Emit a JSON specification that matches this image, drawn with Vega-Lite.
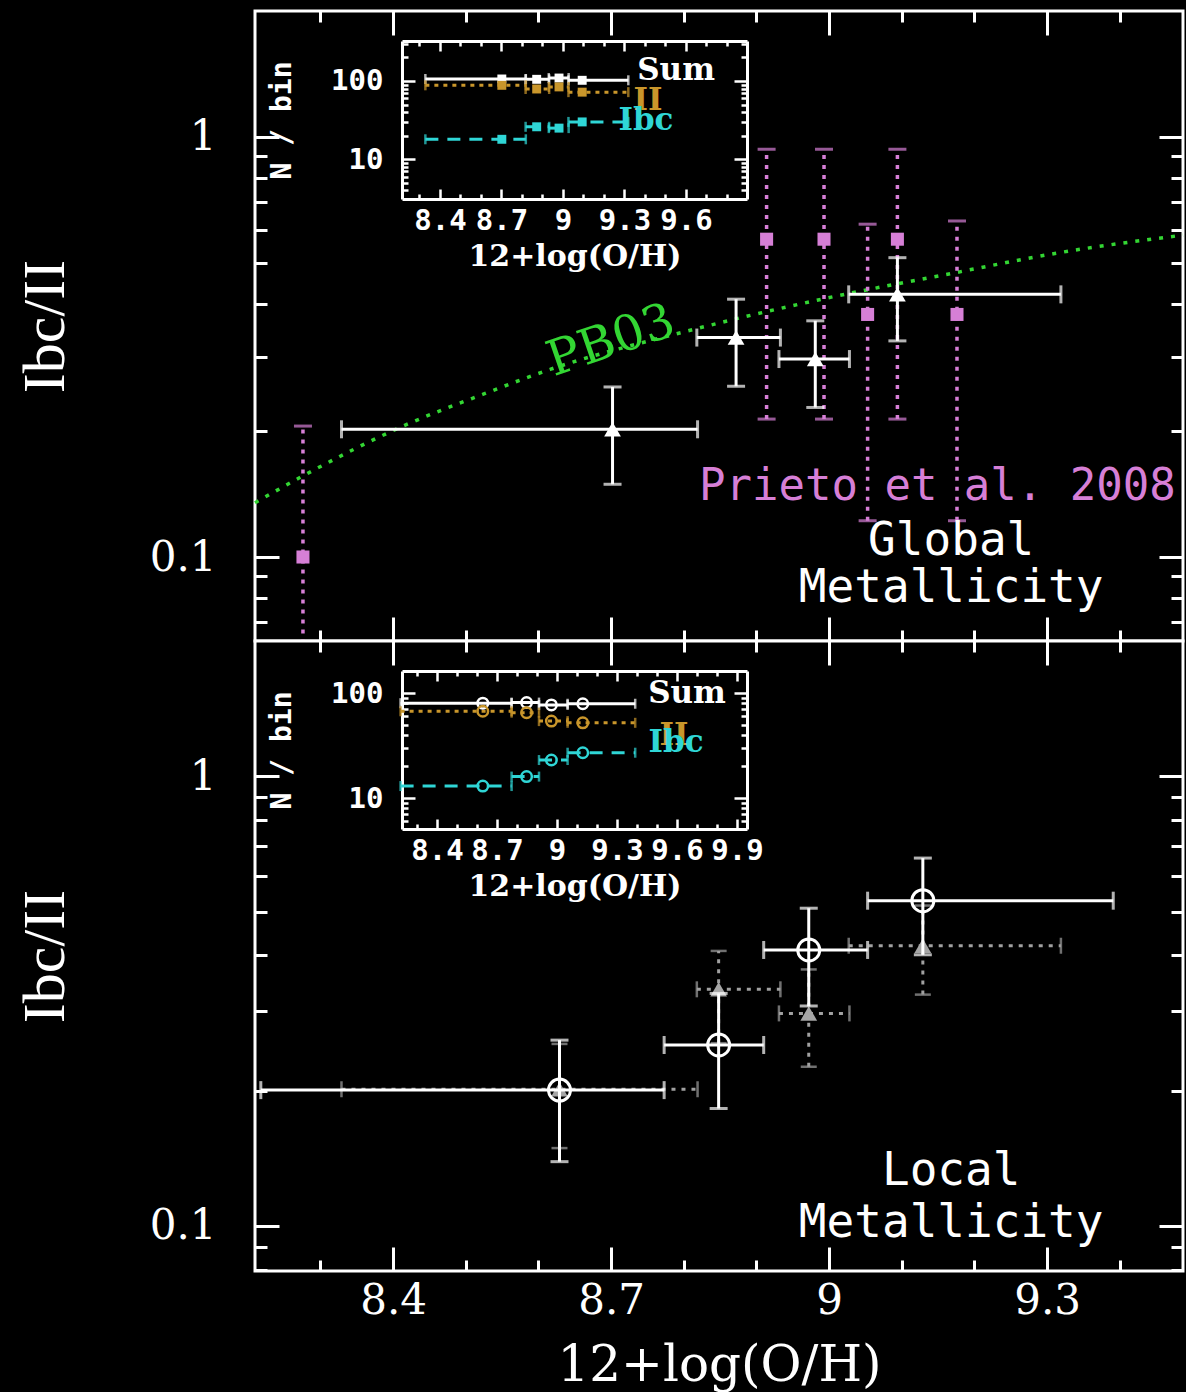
{
  "$schema": "https://vega.github.io/schema/vega-lite/v6.json",
  "background": "#000000",
  "padding": {"left": 13, "top": 8, "right": 0, "bottom": 0},
  "spacing": 0,
  "bounds": "flush",
  "config": {
    "view": {"stroke": "#ffffff", "strokeWidth": 3, "fill": "#000000"},
    "axis": {"grid": false, "domain": false, "tickColor": "#ffffff", "tickWidth": 3, "labelColor": "#ffffff", "titleColor": "#ffffff", "domainColor": "#ffffff", "labelOverlap": false, "labelFlush": false, "labelBound": false, "titleFontWeight": "normal"}
  },
  "datasets": {
    "pb03": [{"x": 8.21, "y": 0.1346}, {"x": 8.276, "y": 0.156}, {"x": 8.411, "y": 0.204}, {"x": 8.525, "y": 0.2445}, {"x": 8.617, "y": 0.28}, {"x": 8.793, "y": 0.341}, {"x": 8.99, "y": 0.411}, {"x": 9.173, "y": 0.475}, {"x": 9.316, "y": 0.53}, {"x": 9.487, "y": 0.584}],
    "prieto": [{"x": 8.276, "y": 0.1, "ylo": 0.05, "yhi": 0.205}, {"x": 8.914, "y": 0.571, "ylo": 0.213, "yhi": 0.935}, {"x": 8.993, "y": 0.571, "ylo": 0.213, "yhi": 0.935}, {"x": 9.053, "y": 0.378, "ylo": 0.122, "yhi": 0.62}, {"x": 9.094, "y": 0.571, "ylo": 0.213, "yhi": 0.935}, {"x": 9.176, "y": 0.378, "ylo": 0.122, "yhi": 0.631}],
    "global": [{"x": 8.702, "xlo": 8.329, "xhi": 8.819, "y": 0.2014, "ylo": 0.149, "yhi": 0.254}, {"x": 8.872, "xlo": 8.818, "xhi": 8.933, "y": 0.333, "ylo": 0.255, "yhi": 0.411}, {"x": 8.981, "xlo": 8.931, "xhi": 9.028, "y": 0.296, "ylo": 0.227, "yhi": 0.365}, {"x": 9.094, "xlo": 9.027, "xhi": 9.319, "y": 0.422, "ylo": 0.327, "yhi": 0.516}],
    "local": [{"x": 8.629, "xlo": 8.218, "xhi": 8.773, "y": 0.2005, "ylo": 0.139, "yhi": 0.259}, {"x": 8.848, "xlo": 8.773, "xhi": 8.91, "y": 0.2526, "ylo": 0.1825, "yhi": 0.329}, {"x": 8.972, "xlo": 8.91, "xhi": 9.053, "y": 0.411, "ylo": 0.3085, "yhi": 0.509}, {"x": 9.129, "xlo": 9.053, "xhi": 9.391, "y": 0.529, "ylo": 0.401, "yhi": 0.658}],
    "globalLocal": [{"x": 8.629, "xlo": 8.329, "xhi": 8.819, "y": 0.2014, "ylo": 0.149, "yhi": 0.254}, {"x": 8.848, "xlo": 8.818, "xhi": 8.933, "y": 0.336, "ylo": 0.255, "yhi": 0.409}, {"x": 8.972, "xlo": 8.931, "xhi": 9.028, "y": 0.297, "ylo": 0.226, "yhi": 0.372}, {"x": 9.129, "xlo": 9.027, "xhi": 9.319, "y": 0.42, "ylo": 0.327, "yhi": 0.516}],
    "insetTop": [
      {"type": "Sum", "x": 8.702, "xlo": 8.329, "xhi": 8.819, "n": 106}, {"type": "Sum", "x": 8.872, "xlo": 8.818, "xhi": 8.933, "n": 105}, {"type": "Sum", "x": 8.981, "xlo": 8.931, "xhi": 9.028, "n": 109}, {"type": "Sum", "x": 9.094, "xlo": 9.027, "xhi": 9.319, "n": 102},
      {"type": "II", "x": 8.702, "xlo": 8.329, "xhi": 8.819, "n": 88}, {"type": "II", "x": 8.872, "xlo": 8.818, "xhi": 8.933, "n": 79}, {"type": "II", "x": 8.981, "xlo": 8.931, "xhi": 9.028, "n": 84}, {"type": "II", "x": 9.094, "xlo": 9.027, "xhi": 9.319, "n": 72},
      {"type": "Ibc", "x": 8.702, "xlo": 8.329, "xhi": 8.819, "n": 18}, {"type": "Ibc", "x": 8.872, "xlo": 8.818, "xhi": 8.933, "n": 26}, {"type": "Ibc", "x": 8.981, "xlo": 8.931, "xhi": 9.028, "n": 25}, {"type": "Ibc", "x": 9.094, "xlo": 9.027, "xhi": 9.319, "n": 30}
    ],
    "insetBottom": [
      {"type": "Sum", "x": 8.629, "xlo": 8.218, "xhi": 8.773, "n": 80}, {"type": "Sum", "x": 8.848, "xlo": 8.773, "xhi": 8.91, "n": 81}, {"type": "Sum", "x": 8.972, "xlo": 8.91, "xhi": 9.053, "n": 77}, {"type": "Sum", "x": 9.129, "xlo": 9.053, "xhi": 9.391, "n": 79},
      {"type": "II", "x": 8.629, "xlo": 8.218, "xhi": 8.773, "n": 67}, {"type": "II", "x": 8.848, "xlo": 8.773, "xhi": 8.91, "n": 65}, {"type": "II", "x": 8.972, "xlo": 8.91, "xhi": 9.053, "n": 54}, {"type": "II", "x": 9.129, "xlo": 9.053, "xhi": 9.391, "n": 52},
      {"type": "Ibc", "x": 8.629, "xlo": 8.218, "xhi": 8.773, "n": 13}, {"type": "Ibc", "x": 8.848, "xlo": 8.773, "xhi": 8.91, "n": 16}, {"type": "Ibc", "x": 8.972, "xlo": 8.91, "xhi": 9.053, "n": 23}, {"type": "Ibc", "x": 9.129, "xlo": 9.053, "xhi": 9.391, "n": 27}
    ],
    "insetTopLabels": [{"type": "Sum", "label": "Sum", "x": 9.552, "n": 134}, {"type": "II", "label": "II", "x": 9.415, "n": 55.6}, {"type": "Ibc", "label": "Ibc", "x": 9.405, "n": 30.8}],
    "insetBottomLabels": [{"type": "Sum", "label": "Sum", "x": 9.65, "n": 97.8}, {"type": "II", "label": "II", "x": 9.585, "n": 38.9}, {"type": "Ibc", "label": "Ibc", "x": 9.595, "n": 33.4}]
  },
  "vconcat": [
    {
      "width": 928,
      "height": 630,
      "resolve": {"scale": {"x": "independent", "y": "independent"}, "axis": {"x": "independent", "y": "independent"}},
      "layer": [
        {
          "resolve": {"axis": {"x": "independent", "y": "independent"}},
          "layer": [
            {"data": {"name": "pb03"}, "mark": {"type": "line", "color": "#33d633", "strokeWidth": 3.5, "strokeDash": [4, 8], "interpolate": "monotone"},
             "encoding": {
               "x": {"field": "x", "type": "quantitative", "scale": {"domain": [8.21, 9.487], "nice": false, "zero": false},
                     "axis": {"orient": "bottom", "values": [8.3, 8.4, 8.5, 8.6, 8.7, 8.8, 8.9, 9, 9.1, 9.2, 9.3, 9.4], "labels": false, "title": null, "tickSize": {"condition": {"test": "round(datum.value*10) % 3 == 0", "value": -24}, "value": -11}}},
               "y": {"field": "y", "type": "quantitative", "scale": {"type": "log", "domain": [0.0631, 1.995], "nice": false},
                     "axis": {"orient": "left", "values": [0.07, 0.08, 0.09, 0.1, 0.2, 0.3, 0.4, 0.5, 0.6, 0.7, 0.8, 0.9, 1], "labelExpr": "datum.value == 1 ? '1' : (datum.value == 0.1 ? '0.1' : '')", "tickSize": {"condition": {"test": "datum.value == 1 || datum.value == 0.1", "value": -24}, "value": -12}, "labelFont": "DejaVu Serif", "labelFontSize": 42, "labelPadding": 63, "title": "Ibc/II", "titleFont": "Liberation Serif", "titleFontSize": 60, "titlePadding": 73}}
             }},
            {"data": {"name": "prieto"}, "mark": {"type": "rule", "color": "#d67fd6", "strokeWidth": 3.5, "strokeDash": [4, 6], "clip": true},
             "encoding": {
               "x": {"field": "x", "type": "quantitative", "scale": {"domain": [8.21, 9.487], "nice": false, "zero": false}, "axis": null},
               "y": {"field": "ylo", "type": "quantitative", "scale": {"type": "log", "domain": [0.0631, 1.995], "nice": false}, "axis": null},
               "y2": {"field": "yhi"}
             }},
            {"data": {"name": "prieto"}, "transform": [{"fold": ["ylo", "yhi"], "as": ["end", "yv"]}], "mark": {"type": "tick", "orient": "horizontal", "size": 18, "thickness": 3, "color": "#d67fd6", "clip": true},
             "encoding": {
               "x": {"field": "x", "type": "quantitative", "scale": {"domain": [8.21, 9.487], "nice": false, "zero": false}, "axis": null},
               "y": {"field": "yv", "type": "quantitative", "scale": {"type": "log", "domain": [0.0631, 1.995], "nice": false}, "axis": null}
             }},
            {"data": {"name": "prieto"}, "mark": {"type": "point", "shape": "square", "filled": true, "size": 170, "color": "#d67fd6", "opacity": 1},
             "encoding": {
               "x": {"field": "x", "type": "quantitative", "scale": {"domain": [8.21, 9.487], "nice": false, "zero": false},
                     "axis": {"orient": "top", "values": [8.3, 8.4, 8.5, 8.6, 8.7, 8.8, 8.9, 9, 9.1, 9.2, 9.3, 9.4], "labels": false, "title": null, "tickSize": {"condition": {"test": "round(datum.value*10) % 3 == 0", "value": -24}, "value": -11}}},
               "y": {"field": "y", "type": "quantitative", "scale": {"type": "log", "domain": [0.0631, 1.995], "nice": false},
                     "axis": {"orient": "right", "values": [0.07, 0.08, 0.09, 0.1, 0.2, 0.3, 0.4, 0.5, 0.6, 0.7, 0.8, 0.9, 1], "labels": false, "title": null, "tickSize": {"condition": {"test": "datum.value == 1 || datum.value == 0.1", "value": -24}, "value": -12}}}
             }},
            {"data": {"name": "global"}, "mark": {"type": "rule", "color": "#ffffff", "strokeWidth": 3},
             "encoding": {
               "x": {"field": "xlo", "type": "quantitative", "scale": {"domain": [8.21, 9.487], "nice": false, "zero": false}, "axis": null},
               "x2": {"field": "xhi"},
               "y": {"field": "y", "type": "quantitative", "scale": {"type": "log", "domain": [0.0631, 1.995], "nice": false}, "axis": null}
             }},
            {"data": {"name": "global"}, "transform": [{"fold": ["xlo", "xhi"], "as": ["end", "xv"]}], "mark": {"type": "tick", "orient": "vertical", "size": 18, "thickness": 3, "color": "#ffffff"},
             "encoding": {
               "x": {"field": "xv", "type": "quantitative", "scale": {"domain": [8.21, 9.487], "nice": false, "zero": false}, "axis": null},
               "y": {"field": "y", "type": "quantitative", "scale": {"type": "log", "domain": [0.0631, 1.995], "nice": false}, "axis": null}
             }},
            {"data": {"name": "global"}, "mark": {"type": "rule", "color": "#ffffff", "strokeWidth": 3},
             "encoding": {
               "x": {"field": "x", "type": "quantitative", "scale": {"domain": [8.21, 9.487], "nice": false, "zero": false}, "axis": null},
               "y": {"field": "ylo", "type": "quantitative", "scale": {"type": "log", "domain": [0.0631, 1.995], "nice": false}, "axis": null},
               "y2": {"field": "yhi"}
             }},
            {"data": {"name": "global"}, "transform": [{"fold": ["ylo", "yhi"], "as": ["end", "yv"]}], "mark": {"type": "tick", "orient": "horizontal", "size": 18, "thickness": 3, "color": "#ffffff"},
             "encoding": {
               "x": {"field": "x", "type": "quantitative", "scale": {"domain": [8.21, 9.487], "nice": false, "zero": false}, "axis": null},
               "y": {"field": "yv", "type": "quantitative", "scale": {"type": "log", "domain": [0.0631, 1.995], "nice": false}, "axis": null}
             }},
            {"data": {"name": "global"}, "mark": {"type": "point", "shape": "triangle-up", "filled": true, "size": 280, "color": "#ffffff", "opacity": 1},
             "encoding": {
               "x": {"field": "x", "type": "quantitative", "scale": {"domain": [8.21, 9.487], "nice": false, "zero": false}, "axis": null},
               "y": {"field": "y", "type": "quantitative", "scale": {"type": "log", "domain": [0.0631, 1.995], "nice": false}, "axis": null}
             }},
            {"data": {"values": [{"label": "PB03", "x": 8.7, "y": 0.327}]}, "mark": {"type": "text", "color": "#33d633", "font": "DejaVu Serif", "fontSize": 49, "angle": 341, "align": "center", "baseline": "middle"},
             "encoding": {
               "x": {"field": "x", "type": "quantitative", "scale": {"domain": [8.21, 9.487], "nice": false, "zero": false}, "axis": null},
               "y": {"field": "y", "type": "quantitative", "scale": {"type": "log", "domain": [0.0631, 1.995], "nice": false}, "axis": null},
               "text": {"field": "label"}
             }},
            {"data": {"values": [{"label": "Prieto et al. 2008", "x": 9.149, "y": 0.1468}]}, "mark": {"type": "text", "color": "#d67fd6", "font": "DejaVu Sans Mono", "fontSize": 44, "align": "center", "baseline": "middle"},
             "encoding": {
               "x": {"field": "x", "type": "quantitative", "scale": {"domain": [8.21, 9.487], "nice": false, "zero": false}, "axis": null},
               "y": {"field": "y", "type": "quantitative", "scale": {"type": "log", "domain": [0.0631, 1.995], "nice": false}, "axis": null},
               "text": {"field": "label"}
             }},
            {"data": {"values": [{"label": "Global", "x": 9.168, "y": 0.1092}, {"label": "Metallicity", "x": 9.168, "y": 0.0844}]}, "mark": {"type": "text", "color": "#ffffff", "font": "DejaVu Sans Mono", "fontSize": 46, "align": "center", "baseline": "middle"},
             "encoding": {
               "x": {"field": "x", "type": "quantitative", "scale": {"domain": [8.21, 9.487], "nice": false, "zero": false}, "axis": null},
               "y": {"field": "y", "type": "quantitative", "scale": {"type": "log", "domain": [0.0631, 1.995], "nice": false}, "axis": null},
               "text": {"field": "label"}
             }}
          ]
        },
        {
          "resolve": {"axis": {"x": "independent", "y": "independent"}},
          "layer": [
            {"data": {"name": "insetTop"}, "mark": {"type": "rule", "strokeWidth": 3},
             "encoding": {
               "x": {"field": "xlo", "type": "quantitative", "scale": {"domain": [8.215, 9.898], "range": [147, 492], "nice": false, "zero": false},
                     "axis": {"orient": "bottom", "offset": -442, "values": [8.3, 8.4, 8.5, 8.6, 8.7, 8.8, 8.9, 9, 9.1, 9.2, 9.3, 9.4, 9.5, 9.6, 9.7, 9.8], "domain": true, "domainWidth": 3, "tickWidth": 2.5, "tickSize": {"condition": {"test": "round(datum.value*10) % 3 == 0", "value": -10}, "value": -5}, "format": "~g", "labelExpr": "round(datum.value*10) % 3 == 0 ? datum.label : ''", "labelFont": "DejaVu Sans Mono", "labelFontWeight": "bold", "labelFontSize": 29, "labelPadding": 17, "title": "12+log(O/H)", "titleFont": "DejaVu Serif", "titleFontWeight": "bold", "titleFontSize": 30, "titlePadding": 1}},
               "x2": {"field": "xhi"},
               "y": {"field": "n", "type": "quantitative", "scale": {"type": "log", "domain": [3.11, 324], "range": [188, 30], "nice": false},
                     "axis": {"orient": "left", "offset": -147, "values": [4, 5, 6, 7, 8, 9, 10, 20, 30, 40, 50, 60, 70, 80, 90, 100, 200, 300], "domain": true, "domainWidth": 3, "tickWidth": 2.5, "tickSize": {"condition": {"test": "datum.value == 10 || datum.value == 100", "value": -13}, "value": -6}, "labelExpr": "datum.value == 100 ? '100' : (datum.value == 10 ? '10' : '')", "labelFont": "DejaVu Sans Mono", "labelFontWeight": "bold", "labelFontSize": 29, "labelPadding": 32, "title": "N / bin", "titleFont": "DejaVu Sans Mono", "titleFontWeight": "bold", "titleFontSize": 28, "titlePadding": 34}},
               "color": {"field": "type", "type": "nominal", "scale": {"domain": ["Sum", "II", "Ibc"], "range": ["#ffffff", "#c9962b", "#2fd6d6"]}, "legend": null},
               "strokeDash": {"field": "type", "type": "nominal", "scale": {"domain": ["Sum", "II", "Ibc"], "range": [[1, 0], [4, 5], [13, 9]]}, "legend": null}
             }},
            {"data": {"name": "insetTop"}, "transform": [{"fold": ["xlo", "xhi"], "as": ["end", "xv"]}], "mark": {"type": "tick", "orient": "vertical", "size": 10, "thickness": 2.5},
             "encoding": {
               "x": {"field": "xv", "type": "quantitative", "scale": {"domain": [8.215, 9.898], "range": [147, 492], "nice": false, "zero": false}, "axis": null},
               "y": {"field": "n", "type": "quantitative", "scale": {"type": "log", "domain": [3.11, 324], "range": [188, 30], "nice": false}, "axis": null},
               "color": {"field": "type", "type": "nominal", "scale": {"domain": ["Sum", "II", "Ibc"], "range": ["#ffffff", "#c9962b", "#2fd6d6"]}, "legend": null}
             }},
            {"data": {"name": "insetTop"}, "mark": {"type": "point", "shape": "square", "filled": true, "size": 80, "opacity": 1},
             "encoding": {
               "x": {"field": "x", "type": "quantitative", "scale": {"domain": [8.215, 9.898], "range": [147, 492], "nice": false, "zero": false},
                     "axis": {"orient": "top", "offset": -30, "values": [8.3, 8.4, 8.5, 8.6, 8.7, 8.8, 8.9, 9, 9.1, 9.2, 9.3, 9.4, 9.5, 9.6, 9.7, 9.8], "domain": true, "domainWidth": 3, "tickWidth": 2.5, "tickSize": {"condition": {"test": "round(datum.value*10) % 3 == 0", "value": -10}, "value": -5}, "labels": false, "title": null}},
               "y": {"field": "n", "type": "quantitative", "scale": {"type": "log", "domain": [3.11, 324], "range": [188, 30], "nice": false},
                     "axis": {"orient": "right", "offset": -436, "values": [4, 5, 6, 7, 8, 9, 10, 20, 30, 40, 50, 60, 70, 80, 90, 100, 200, 300], "domain": true, "domainWidth": 3, "tickWidth": 2.5, "tickSize": {"condition": {"test": "datum.value == 10 || datum.value == 100", "value": -13}, "value": -6}, "labels": false, "title": null}},
               "color": {"field": "type", "type": "nominal", "scale": {"domain": ["Sum", "II", "Ibc"], "range": ["#ffffff", "#c9962b", "#2fd6d6"]}, "legend": null}
             }},
            {"data": {"name": "insetTopLabels"}, "mark": {"type": "text", "font": "DejaVu Serif", "fontWeight": "bold", "fontSize": 31, "align": "center", "baseline": "middle"},
             "encoding": {
               "x": {"field": "x", "type": "quantitative", "scale": {"domain": [8.215, 9.898], "range": [147, 492], "nice": false, "zero": false}, "axis": null},
               "y": {"field": "n", "type": "quantitative", "scale": {"type": "log", "domain": [3.11, 324], "range": [188, 30], "nice": false}, "axis": null},
               "text": {"field": "label"},
               "color": {"field": "type", "type": "nominal", "scale": {"domain": ["Sum", "II", "Ibc"], "range": ["#ffffff", "#c9962b", "#2fd6d6"]}, "legend": null}
             }}
          ]
        }
      ]
    },
    {
      "width": 928,
      "height": 630,
      "resolve": {"scale": {"x": "independent", "y": "independent"}, "axis": {"x": "independent", "y": "independent"}},
      "layer": [
        {
          "resolve": {"axis": {"x": "independent", "y": "independent"}},
          "layer": [
            {"data": {"name": "globalLocal"}, "mark": {"type": "rule", "color": "#a0a0a0", "strokeWidth": 3, "strokeDash": [4, 6]},
             "encoding": {
               "x": {"field": "xlo", "type": "quantitative", "scale": {"domain": [8.21, 9.487], "nice": false, "zero": false}, "axis": null},
               "x2": {"field": "xhi"},
               "y": {"field": "y", "type": "quantitative", "scale": {"type": "log", "domain": [0.0794, 2.0], "nice": false}, "axis": null}
             }},
            {"data": {"name": "globalLocal"}, "transform": [{"fold": ["xlo", "xhi"], "as": ["end", "xv"]}], "mark": {"type": "tick", "orient": "vertical", "size": 16, "thickness": 2.5, "color": "#a0a0a0"},
             "encoding": {
               "x": {"field": "xv", "type": "quantitative", "scale": {"domain": [8.21, 9.487], "nice": false, "zero": false}, "axis": null},
               "y": {"field": "y", "type": "quantitative", "scale": {"type": "log", "domain": [0.0794, 2.0], "nice": false}, "axis": null}
             }},
            {"data": {"name": "globalLocal"}, "mark": {"type": "rule", "color": "#a0a0a0", "strokeWidth": 3, "strokeDash": [4, 6]},
             "encoding": {
               "x": {"field": "x", "type": "quantitative", "scale": {"domain": [8.21, 9.487], "nice": false, "zero": false}, "axis": null},
               "y": {"field": "ylo", "type": "quantitative", "scale": {"type": "log", "domain": [0.0794, 2.0], "nice": false}, "axis": null},
               "y2": {"field": "yhi"}
             }},
            {"data": {"name": "globalLocal"}, "transform": [{"fold": ["ylo", "yhi"], "as": ["end", "yv"]}], "mark": {"type": "tick", "orient": "horizontal", "size": 16, "thickness": 2.5, "color": "#a0a0a0"},
             "encoding": {
               "x": {"field": "x", "type": "quantitative", "scale": {"domain": [8.21, 9.487], "nice": false, "zero": false}, "axis": null},
               "y": {"field": "yv", "type": "quantitative", "scale": {"type": "log", "domain": [0.0794, 2.0], "nice": false}, "axis": null}
             }},
            {"data": {"name": "globalLocal"}, "mark": {"type": "point", "shape": "triangle-up", "filled": true, "size": 280, "color": "#a6a6a6", "opacity": 1},
             "encoding": {
               "x": {"field": "x", "type": "quantitative", "scale": {"domain": [8.21, 9.487], "nice": false, "zero": false},
                     "axis": {"orient": "top", "values": [8.3, 8.4, 8.5, 8.6, 8.7, 8.8, 8.9, 9, 9.1, 9.2, 9.3, 9.4], "labels": false, "title": null, "tickSize": {"condition": {"test": "round(datum.value*10) % 3 == 0", "value": -24}, "value": -11}}},
               "y": {"field": "y", "type": "quantitative", "scale": {"type": "log", "domain": [0.0794, 2.0], "nice": false},
                     "axis": {"orient": "right", "values": [0.08, 0.09, 0.1, 0.2, 0.3, 0.4, 0.5, 0.6, 0.7, 0.8, 0.9, 1], "labels": false, "title": null, "tickSize": {"condition": {"test": "datum.value == 1 || datum.value == 0.1", "value": -24}, "value": -12}}}
             }},
            {"data": {"name": "local"}, "mark": {"type": "rule", "color": "#ffffff", "strokeWidth": 3},
             "encoding": {
               "x": {"field": "xlo", "type": "quantitative", "scale": {"domain": [8.21, 9.487], "nice": false, "zero": false}, "axis": null},
               "x2": {"field": "xhi"},
               "y": {"field": "y", "type": "quantitative", "scale": {"type": "log", "domain": [0.0794, 2.0], "nice": false}, "axis": null}
             }},
            {"data": {"name": "local"}, "transform": [{"fold": ["xlo", "xhi"], "as": ["end", "xv"]}], "mark": {"type": "tick", "orient": "vertical", "size": 18, "thickness": 3, "color": "#ffffff"},
             "encoding": {
               "x": {"field": "xv", "type": "quantitative", "scale": {"domain": [8.21, 9.487], "nice": false, "zero": false}, "axis": null},
               "y": {"field": "y", "type": "quantitative", "scale": {"type": "log", "domain": [0.0794, 2.0], "nice": false}, "axis": null}
             }},
            {"data": {"name": "local"}, "mark": {"type": "rule", "color": "#ffffff", "strokeWidth": 3},
             "encoding": {
               "x": {"field": "x", "type": "quantitative", "scale": {"domain": [8.21, 9.487], "nice": false, "zero": false}, "axis": null},
               "y": {"field": "ylo", "type": "quantitative", "scale": {"type": "log", "domain": [0.0794, 2.0], "nice": false}, "axis": null},
               "y2": {"field": "yhi"}
             }},
            {"data": {"name": "local"}, "transform": [{"fold": ["ylo", "yhi"], "as": ["end", "yv"]}], "mark": {"type": "tick", "orient": "horizontal", "size": 18, "thickness": 3, "color": "#ffffff"},
             "encoding": {
               "x": {"field": "x", "type": "quantitative", "scale": {"domain": [8.21, 9.487], "nice": false, "zero": false}, "axis": null},
               "y": {"field": "yv", "type": "quantitative", "scale": {"type": "log", "domain": [0.0794, 2.0], "nice": false}, "axis": null}
             }},
            {"data": {"name": "local"}, "mark": {"type": "point", "shape": "circle", "filled": false, "size": 484, "strokeWidth": 3, "color": "#ffffff", "opacity": 1},
             "encoding": {
               "x": {"field": "x", "type": "quantitative", "scale": {"domain": [8.21, 9.487], "nice": false, "zero": false},
                     "axis": {"orient": "bottom", "values": [8.3, 8.4, 8.5, 8.6, 8.7, 8.8, 8.9, 9, 9.1, 9.2, 9.3, 9.4], "format": "~g", "labelExpr": "round(datum.value*10) % 3 == 0 ? datum.label : ''", "tickSize": {"condition": {"test": "round(datum.value*10) % 3 == 0", "value": -24}, "value": -11}, "labelFont": "DejaVu Serif", "labelFontSize": 42, "labelPadding": 33, "title": "12+log(O/H)", "titleFont": "DejaVu Serif", "titleFontSize": 50, "titlePadding": 6}},
               "y": {"field": "y", "type": "quantitative", "scale": {"type": "log", "domain": [0.0794, 2.0], "nice": false},
                     "axis": {"orient": "left", "values": [0.08, 0.09, 0.1, 0.2, 0.3, 0.4, 0.5, 0.6, 0.7, 0.8, 0.9, 1], "labelExpr": "datum.value == 1 ? '1' : (datum.value == 0.1 ? '0.1' : '')", "tickSize": {"condition": {"test": "datum.value == 1 || datum.value == 0.1", "value": -24}, "value": -12}, "labelFont": "DejaVu Serif", "labelFontSize": 42, "labelPadding": 63, "title": "Ibc/II", "titleFont": "Liberation Serif", "titleFontSize": 60, "titlePadding": 73}}
             }},
            {"data": {"values": [{"label": "Local", "x": 9.168, "y": 0.1326}, {"label": "Metallicity", "x": 9.168, "y": 0.1016}]}, "mark": {"type": "text", "color": "#ffffff", "font": "DejaVu Sans Mono", "fontSize": 46, "align": "center", "baseline": "middle"},
             "encoding": {
               "x": {"field": "x", "type": "quantitative", "scale": {"domain": [8.21, 9.487], "nice": false, "zero": false}, "axis": null},
               "y": {"field": "y", "type": "quantitative", "scale": {"type": "log", "domain": [0.0794, 2.0], "nice": false}, "axis": null},
               "text": {"field": "label"}
             }}
          ]
        },
        {
          "resolve": {"axis": {"x": "independent", "y": "independent"}},
          "layer": [
            {"data": {"name": "insetBottom"}, "mark": {"type": "rule", "strokeWidth": 3},
             "encoding": {
               "x": {"field": "xlo", "type": "quantitative", "scale": {"domain": [8.225, 9.95], "range": [147, 492], "nice": false, "zero": false},
                     "axis": {"orient": "bottom", "offset": -442, "values": [8.3, 8.4, 8.5, 8.6, 8.7, 8.8, 8.9, 9, 9.1, 9.2, 9.3, 9.4, 9.5, 9.6, 9.7, 9.8, 9.9], "domain": true, "domainWidth": 3, "tickWidth": 2.5, "tickSize": {"condition": {"test": "round(datum.value*10) % 3 == 0", "value": -10}, "value": -5}, "format": "~g", "labelExpr": "round(datum.value*10) % 3 == 0 ? datum.label : ''", "labelFont": "DejaVu Sans Mono", "labelFontWeight": "bold", "labelFontSize": 29, "labelPadding": 17, "title": "12+log(O/H)", "titleFont": "DejaVu Serif", "titleFontWeight": "bold", "titleFontSize": 30, "titlePadding": 1}},
               "x2": {"field": "xhi"},
               "y": {"field": "n", "type": "quantitative", "scale": {"type": "log", "domain": [5.07, 162], "range": [188, 30], "nice": false},
                     "axis": {"orient": "left", "offset": -147, "values": [6, 7, 8, 9, 10, 20, 30, 40, 50, 60, 70, 80, 90, 100], "domain": true, "domainWidth": 3, "tickWidth": 2.5, "tickSize": {"condition": {"test": "datum.value == 10 || datum.value == 100", "value": -13}, "value": -6}, "labelExpr": "datum.value == 100 ? '100' : (datum.value == 10 ? '10' : '')", "labelFont": "DejaVu Sans Mono", "labelFontWeight": "bold", "labelFontSize": 29, "labelPadding": 32, "title": "N / bin", "titleFont": "DejaVu Sans Mono", "titleFontWeight": "bold", "titleFontSize": 28, "titlePadding": 34}},
               "color": {"field": "type", "type": "nominal", "scale": {"domain": ["Sum", "II", "Ibc"], "range": ["#ffffff", "#c9962b", "#2fd6d6"]}, "legend": null},
               "strokeDash": {"field": "type", "type": "nominal", "scale": {"domain": ["Sum", "II", "Ibc"], "range": [[1, 0], [4, 5], [13, 9]]}, "legend": null}
             }},
            {"data": {"name": "insetBottom"}, "transform": [{"fold": ["xlo", "xhi"], "as": ["end", "xv"]}], "mark": {"type": "tick", "orient": "vertical", "size": 10, "thickness": 2.5},
             "encoding": {
               "x": {"field": "xv", "type": "quantitative", "scale": {"domain": [8.225, 9.95], "range": [147, 492], "nice": false, "zero": false}, "axis": null},
               "y": {"field": "n", "type": "quantitative", "scale": {"type": "log", "domain": [5.07, 162], "range": [188, 30], "nice": false}, "axis": null},
               "color": {"field": "type", "type": "nominal", "scale": {"domain": ["Sum", "II", "Ibc"], "range": ["#ffffff", "#c9962b", "#2fd6d6"]}, "legend": null}
             }},
            {"data": {"name": "insetBottom"}, "mark": {"type": "point", "shape": "circle", "filled": false, "size": 110, "strokeWidth": 2.5, "opacity": 1},
             "encoding": {
               "x": {"field": "x", "type": "quantitative", "scale": {"domain": [8.225, 9.95], "range": [147, 492], "nice": false, "zero": false},
                     "axis": {"orient": "top", "offset": -30, "values": [8.3, 8.4, 8.5, 8.6, 8.7, 8.8, 8.9, 9, 9.1, 9.2, 9.3, 9.4, 9.5, 9.6, 9.7, 9.8, 9.9], "domain": true, "domainWidth": 3, "tickWidth": 2.5, "tickSize": {"condition": {"test": "round(datum.value*10) % 3 == 0", "value": -10}, "value": -5}, "labels": false, "title": null}},
               "y": {"field": "n", "type": "quantitative", "scale": {"type": "log", "domain": [5.07, 162], "range": [188, 30], "nice": false},
                     "axis": {"orient": "right", "offset": -436, "values": [6, 7, 8, 9, 10, 20, 30, 40, 50, 60, 70, 80, 90, 100], "domain": true, "domainWidth": 3, "tickWidth": 2.5, "tickSize": {"condition": {"test": "datum.value == 10 || datum.value == 100", "value": -13}, "value": -6}, "labels": false, "title": null}},
               "color": {"field": "type", "type": "nominal", "scale": {"domain": ["Sum", "II", "Ibc"], "range": ["#ffffff", "#c9962b", "#2fd6d6"]}, "legend": null}
             }},
            {"data": {"name": "insetBottomLabels"}, "mark": {"type": "text", "font": "DejaVu Serif", "fontWeight": "bold", "fontSize": 31, "align": "center", "baseline": "middle"},
             "encoding": {
               "x": {"field": "x", "type": "quantitative", "scale": {"domain": [8.225, 9.95], "range": [147, 492], "nice": false, "zero": false}, "axis": null},
               "y": {"field": "n", "type": "quantitative", "scale": {"type": "log", "domain": [5.07, 162], "range": [188, 30], "nice": false}, "axis": null},
               "text": {"field": "label"},
               "color": {"field": "type", "type": "nominal", "scale": {"domain": ["Sum", "II", "Ibc"], "range": ["#ffffff", "#c9962b", "#2fd6d6"]}, "legend": null}
             }}
          ]
        }
      ]
    }
  ]
}
